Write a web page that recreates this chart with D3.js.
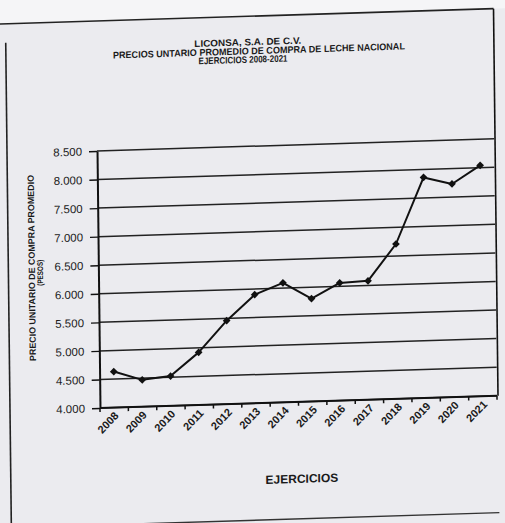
<!DOCTYPE html>
<html>
<head>
<meta charset="utf-8">
<script src="https://cdn.jsdelivr.net/npm/d3@7"></script>
<style>
  html, body { margin: 0; padding: 0; background: #f5f5f7; }
  svg { display: block; font-family: "Liberation Sans", Arial, sans-serif; }
</style>
</head>
<body>
<script>
// data
var years = ['2008', '2009', '2010', '2011', '2012', '2013', '2014', '2015', '2016', '2017', '2018', '2019', '2020', '2021']
var prices = [4630, 4470, 4520, 4920, 5460, 5900, 6090, 5800, 6060, 6080, 6710, 7860, 7730, 8040]
var yTicks = [4000, 4500, 5000, 5500, 6000, 6500, 7000, 7500, 8000, 8500]
var titleLines = ['LICONSA, S.A. DE C.V.', 'PRECIOS  UNTARIO PROMEDIO  DE COMPRA DE LECHE  NACIONAL', 'EJERCICIOS  2008-2021']
var yTitle = ['PRECIO  UNITARIO  DE  COMPRA  PROMEDIO', '(PESOS)']
var xTitle = 'EJERCICIOS'

var W = 505, H = 523
var pLeft = 100, pRight = 497, pTop = 151, pBottom = 408
// the scan is a bit skewed
var skewX = 0.0116, skewY = -0.031

var fmt = d3.formatLocale({decimal: ',', thousands: '.', grouping: [3], currency: ['$', '']}).format(',.0f')

var svg = d3.select('body').append('svg').attr('width', W).attr('height', H)
var g = svg.append('g')
    .attr('transform', 'matrix(1,' + skewY + ',' + skewX + ',1,' + (-skewX * pBottom) + ',' + (-skewY * pLeft) + ')')

// paper
g.append('rect').attr('x', -30).attr('y', 21).attr('width', 560).attr('height', 540).attr('fill', '#ebebef')
g.append('line').attr('x1', -30).attr('x2', 498).attr('y1', 21).attr('y2', 21)
    .attr('stroke', '#222').attr('stroke-width', 1.6)
g.append('line').attr('x1', 10).attr('x2', 10).attr('y1', 40).attr('y2', 560)
    .attr('stroke', '#222').attr('stroke-width', 1.6)
g.append('line').attr('x1', 10).attr('x2', 498).attr('y1', 525).attr('y2', 525)
    .attr('stroke', '#333').attr('stroke-width', 1.4)
g.append('line').attr('x1', 498).attr('x2', 498).attr('y1', 21).attr('y2', pBottom)
    .attr('stroke', '#111').attr('stroke-width', 1.6)

// titles
var titleX = [252, 263, 247]
var titleY = [50, 59, 67.5]
var titleLen = [107, 292, 89]
g.selectAll('text.title')
    .data(titleLines)
    .enter()
        .append('text')
        .attr('class', 'title')
        .attr('x', function(d, i) { return titleX[i]; })
        .attr('y', function(d, i) { return titleY[i]; })
        .attr('text-anchor', 'middle')
        .attr('textLength', function(d, i) { return titleLen[i]; })
        .attr('lengthAdjust', 'spacingAndGlyphs')
        .attr('font-size', 9.5)
        .attr('font-weight', 'bold')
        .attr('fill', '#1a1a1a')
        .text(function(d) { return d; })

var x = d3.scaleBand().domain(years).range([pLeft, pRight]).paddingInner(0).paddingOuter(0)
var y = d3.scaleLinear().domain([4000, 8500]).range([pBottom, pTop])

// gridlines
g.selectAll('line.grid')
    .data(yTicks)
    .enter()
        .append('line')
        .attr('class', 'grid')
        .attr('x1', pLeft).attr('x2', pRight)
        .attr('y1', function(d) { return y(d); })
        .attr('y2', function(d) { return y(d); })
        .attr('stroke', '#222')
        .attr('stroke-width', 1.5)

// y axis
var yAxis = g.append('g')
    .attr('transform', 'translate(' + pLeft + ',0)')
    .call(d3.axisLeft(y).tickValues(yTicks).tickSize(8).tickSizeOuter(0).tickPadding(7).tickFormat(fmt))
yAxis.select('.domain').attr('stroke', '#111').attr('stroke-width', 2)
yAxis.selectAll('.tick line').attr('stroke', '#111').attr('stroke-width', 1.4)
yAxis.selectAll('text').attr('font-size', 11.5).attr('fill', '#1a1a1a').attr('font-family', '"Liberation Sans", Arial, sans-serif')

// x axis line and ticks at category boundaries
g.append('line').attr('x1', pLeft).attr('x2', pRight).attr('y1', pBottom).attr('y2', pBottom)
    .attr('stroke', '#111').attr('stroke-width', 2)
g.selectAll('line.xtick')
    .data(years.concat(['end']))
    .enter()
        .append('line')
        .attr('class', 'xtick')
        .attr('x1', function(d) { return d == 'end' ? pRight : x(d); })
        .attr('x2', function(d) { return d == 'end' ? pRight : x(d); })
        .attr('y1', pBottom).attr('y2', pBottom + 4)
        .attr('stroke', '#111').attr('stroke-width', 1.5)

var xAxis = g.append('g')
    .attr('transform', 'translate(0,' + pBottom + ')')
    .call(d3.axisBottom(x).tickSize(0).tickPadding(0))
xAxis.select('.domain').remove()
xAxis.selectAll('text')
    .attr('font-size', 11)
    .attr('font-weight', 'bold')
    .attr('fill', '#1a1a1a')
    .attr('font-family', '"Liberation Sans", Arial, sans-serif')
    .attr('text-anchor', 'end')
    .attr('dy', 0)
    .attr('transform', 'translate(5,9) rotate(-45)')

// axis titles
g.append('text')
    .attr('transform', 'translate(301,489)')
    .attr('text-anchor', 'middle')
    .attr('font-size', 12)
    .attr('font-weight', 'bold')
    .attr('fill', '#1a1a1a')
    .text(xTitle)

var yTitleX = [36.5, 44.5]
var yTitleLen = [186, 26]
var yTitleSize = [9, 8]
g.selectAll('text.ytitle')
    .data(yTitle)
    .enter()
        .append('text')
        .attr('class', 'ytitle')
        .attr('transform', function(d, i) { return 'translate(' + yTitleX[i] + ',' + (266 + i * 5) + ') rotate(-90)'; })
        .attr('text-anchor', 'middle')
        .attr('textLength', function(d, i) { return yTitleLen[i]; })
        .attr('lengthAdjust', 'spacingAndGlyphs')
        .attr('font-size', function(d, i) { return yTitleSize[i]; })
        .attr('font-weight', 'bold')
        .attr('fill', '#1a1a1a')
        .text(function(d) { return d; })

// series
var points = years.map(function(d, i) { return {year: d, v: prices[i]}; })
var line = d3.line()
    .x(function(d) { return x(d.year) + x.bandwidth() / 2; })
    .y(function(d) { return y(d.v); })
g.append('path')
    .datum(points)
    .attr('d', line)
    .attr('fill', 'none')
    .attr('stroke', '#111')
    .attr('stroke-width', 2)
    .attr('stroke-linejoin', 'round')

g.selectAll('path.marker')
    .data(points)
    .enter()
        .append('path')
        .attr('class', 'marker')
        .attr('d', d3.symbol(d3.symbolSquare, 30))
        .attr('transform', function(d) {
            return 'translate(' + (x(d.year) + x.bandwidth() / 2) + ',' + y(d.v) + ') rotate(45)'
        })
        .attr('fill', '#111')
</script>
</body>
</html>
